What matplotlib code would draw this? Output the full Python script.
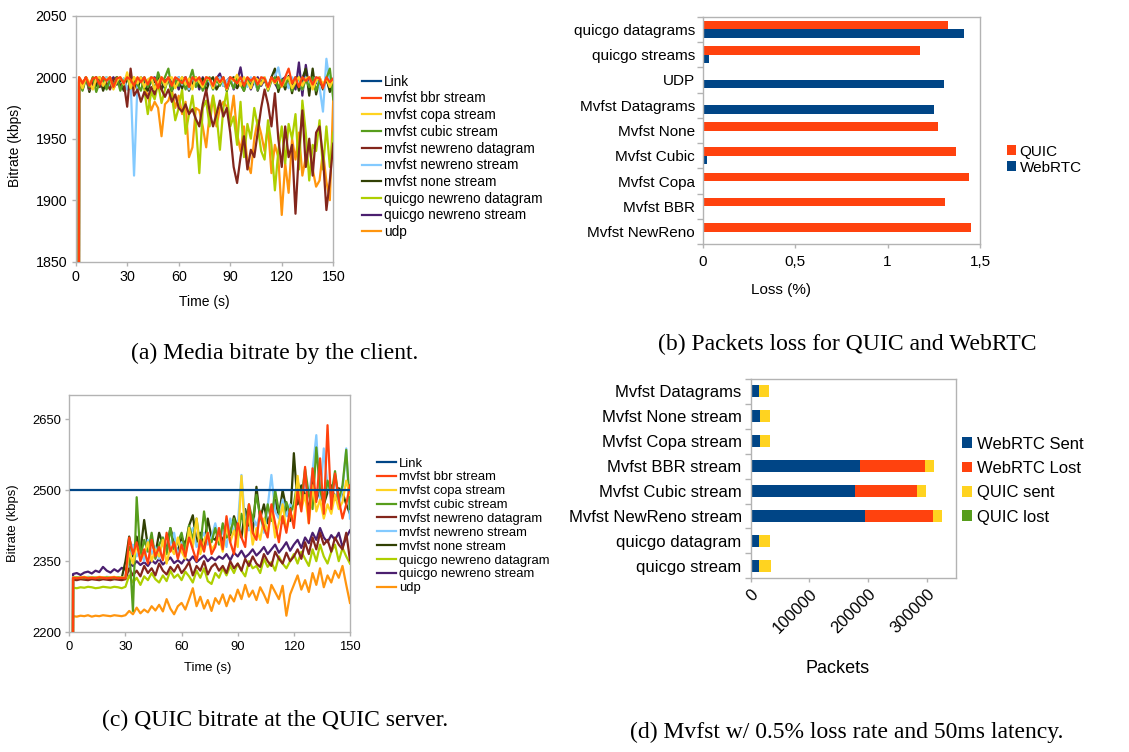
import numpy as np
import matplotlib
matplotlib.use('Agg')
import matplotlib.pyplot as plt

plt.rcParams['font.family'] = ['Liberation Sans', 'DejaVu Sans']

# series names and colours shared by (a) and (c)
series_names = ['Link', 'mvfst bbr stream', 'mvfst copa stream', 'mvfst cubic stream',
                'mvfst newreno datagram', 'mvfst newreno stream', 'mvfst none stream',
                'quicgo newreno datagram', 'quicgo newreno stream', 'udp']
series_colors = ['#004586', '#ff420e', '#ffd320', '#579d1c', '#83261c', '#83caff',
                 '#314004', '#aecf00', '#4b1f6f', '#ff950e']

# (a) media bitrate at the client, kbps, sampled at t = 1, 2, 4, ..., 150 s
link_a = 2500
bbr_a = [0, 2000, 1995, 2000, 1993, 1999, 2000, 1994, 2000, 1997,
         2000, 1992, 1999, 2000, 1995, 2000, 1998, 1993, 2000, 1996,
         2000, 1994, 2000, 1999, 1991, 2000, 1996, 2000, 1993, 2000,
         1998, 1995, 2000, 1992, 2000, 1997, 2000, 1994, 2000, 1999,
         1993, 2000, 1996, 2000, 1991, 2000, 1998, 1995, 2000, 1993,
         2000, 1997, 2000, 1994, 2000, 1999, 1992, 2000, 1996, 2000,
         1993, 2000, 2007, 1995, 2000, 1992, 2000, 1997, 2000, 1994,
         2000, 1999, 1991, 2000, 1996, 1999]
copa_a = [0, 1998, 1991, 2000, 1996, 1990, 1999, 2000, 1993, 1998,
          2000, 1990, 1997, 2000, 1994, 2004, 1991, 2000, 1995, 2000,
          1992, 1998, 2000, 1990, 1996, 2000, 1993, 1999, 2000, 1991,
          1997, 2000, 1994, 1999, 1990, 2000, 1996, 1992, 2000, 1998,
          1991, 2000, 1995, 1999, 1990, 2000, 1997, 2002, 1993, 2000,
          1996, 1991, 2000, 1998, 1994, 2000, 1990, 1999, 1995, 2000,
          1992, 1998, 2000, 1991, 1996, 2000, 1993, 1999, 2000, 1990,
          1997, 2000, 1994, 1999, 1992, 1998]
cubic_a = [0, 1997, 1989, 1999, 1992, 2000, 1988, 1996, 2000, 1990,
           1998, 1993, 2000, 1989, 1997, 2000, 1991, 1999, 1994, 1989,
           2000, 1992, 1998, 1990, 2004, 1995, 2000, 2007, 1989, 1998,
           1993, 2000, 1990, 1997, 2006, 1992, 1999, 1989, 1996, 2000,
           1990, 1998, 1993, 2000, 1989, 1997, 1991, 2000, 1994, 1989,
           1999, 1992, 2000, 1990, 1996, 1999, 1989, 1997, 2000, 1991,
           1998, 1993, 2000, 1989, 1996, 2000, 1990, 1998, 1992, 2000,
           1989, 1997, 1993, 1999, 2007, 1982]
nr_dgram_a = [0, 1998, 1993, 2000, 1990, 1996, 2000, 1992, 1999, 1995,
              1990, 1998, 2000, 1993, 1996, 1976, 2007, 1985, 1990, 1980,
              1988, 1983, 1992, 1986, 1998, 1990, 1984, 1990, 1980, 1986,
              1975, 1972, 1978, 1970, 1974, 1966, 1960, 1978, 1990, 1972,
              1960, 1970, 1981, 1968, 1975, 1955, 1927, 1914, 1935, 1952,
              1925, 1941, 1935, 1955, 1975, 1990, 1978, 1960, 1987, 1950,
              1927, 1960, 1935, 1945, 1889, 1940, 1973, 1927, 1950, 1920,
              1955, 1960, 1935, 1892, 1916, 1946]
nr_stream_a = [0, 1999, 1993, 2000, 1990, 1997, 2000, 1992, 1998, 2000,
               1991, 1996, 2000, 1993, 1999, 1990, 1997, 1920, 1995, 2000,
               1992, 1998, 2000, 1990, 1996, 1999, 1993, 2000, 1991, 1997,
               2000, 1994, 1998, 1990, 2000, 1995, 1999, 1992, 2000, 1996,
               1990, 1998, 2000, 1993, 1997, 1999, 1991, 2000, 1995, 1998,
               1992, 2000, 1996, 1990, 1999, 2000, 1993, 1997, 2000, 2008,
               1994, 1999, 1991, 2000, 1996, 1998, 1990, 2000, 1993, 1997,
               2000, 1992, 1972, 2015, 1995, 1999]
none_a = [0, 1996, 1990, 2000, 1988, 1998, 1993, 2000, 1989, 1997,
          2000, 1991, 1996, 1999, 1989, 2000, 1994, 1998, 1990, 2000,
          1993, 1989, 1999, 1996, 2000, 1990, 1997, 1999, 1989, 1995,
          2000, 1991, 1998, 1989, 1996, 2000, 1992, 1999, 1989, 1997,
          2000, 1990, 1995, 1999, 1989, 1998, 2000, 1991, 1996, 1989,
          1999, 1993, 2000, 1989, 1997, 1999, 1990, 2000, 2007, 1988,
          1998, 1990, 2001, 1987, 2000, 1989, 1999, 2007, 1985, 2007,
          1986, 1998, 1990, 2000, 1988, 1996]
qg_dgram_a = [0, 1999, 1994, 2000, 1991, 1997, 2000, 1993, 1998, 2000,
              1992, 1996, 2000, 1994, 1999, 1990, 1997, 2000, 1993, 1998,
              1990, 1970, 1988, 1982, 1995, 1979, 1990, 2000, 1985, 1965,
              1975, 1990, 1954, 1970, 1985, 1962, 1922, 1975, 1981, 1960,
              1985, 1970, 1941, 1975, 1988, 1960, 1968, 1945, 1980, 1935,
              1962, 1950, 1975, 1960, 1940, 1933, 1965, 1945, 1908, 1940,
              1960, 1930, 1962, 1950, 1970, 1925, 1981, 1955, 1916, 1945,
              1940, 1965, 1925, 1960, 1927, 1955]
qg_stream_a = [0, 1998, 1992, 2000, 1990, 1996, 1999, 1993, 2000, 1991,
               1997, 2000, 1994, 1998, 1990, 2000, 1995, 1999, 1992, 2000,
               1996, 1990, 1998, 2000, 1993, 1997, 1991, 2000, 1995, 1999,
               1990, 1998, 2000, 1992, 1996, 1999, 1990, 2000, 1994, 1997,
               1991, 1999, 2003, 1993, 1997, 2000, 1990, 1996, 2008, 1992,
               1999, 1990, 1997, 2000, 1993, 1998, 1991, 2000, 1995, 1990,
               1998, 2000, 1992, 1996, 1990, 2012, 1985, 2010, 1991, 1999,
               1995, 2000, 1992, 1998, 1990, 1997]
udp_a = [0, 2000, 1996, 1999, 1993, 2000, 1997, 1992, 2000, 1995,
         1999, 1991, 2000, 1996, 1993, 2000, 1998, 1990, 1997, 2000,
         1992, 1985, 1973, 1980, 1975, 1952, 1978, 1981, 1990, 1975,
         1985, 1970, 1980, 1935, 1943, 1975, 1973, 1960, 1943, 1970,
         1985, 1960, 1975, 1980, 1976, 1965, 1985, 1954, 1940, 1960,
         1930, 1922, 1950, 1965, 1954, 1940, 1960, 1922, 1945, 1935,
         1888, 1930, 1906, 1950, 1933, 1955, 1920, 1935, 1945, 1925,
         1911, 1916, 1940, 1915, 1900, 1984]

# (c) bitrate at the QUIC server, kbps, same sampling
link_c = 2500
bbr_c = [0, 2315, 2314, 2315, 2316, 2314, 2315, 2314, 2316, 2315,
         2314, 2315, 2316, 2314, 2315, 2314, 2400, 2365, 2390, 2350,
         2375, 2345, 2395, 2360, 2380, 2352, 2410, 2370, 2390, 2355,
         2385, 2360, 2400, 2375, 2350, 2395, 2370, 2410, 2365, 2380,
         2420, 2375, 2445, 2390, 2365, 2430, 2400, 2380, 2470, 2410,
         2395, 2455, 2420, 2400, 2470, 2430, 2390, 2445, 2410, 2460,
         2420, 2500, 2455, 2549, 2430, 2546, 2475, 2567, 2450, 2637,
         2460, 2535, 2480, 2440, 2470, 2510]
copa_c = [0, 2316, 2315, 2316, 2317, 2315, 2316, 2315, 2317, 2316,
          2315, 2316, 2317, 2315, 2316, 2315, 2370, 2345, 2385, 2355,
          2365, 2390, 2350, 2375, 2360, 2395, 2345, 2380, 2365, 2400,
          2370, 2355, 2420, 2380, 2440, 2365, 2395, 2410, 2375, 2385,
          2400, 2370, 2425, 2390, 2415, 2380, 2530, 2400, 2450, 2385,
          2420, 2395, 2440, 2410, 2460, 2400, 2430, 2470, 2415, 2450,
          2440, 2530, 2460, 2490, 2430, 2510, 2455, 2480, 2440, 2470,
          2450, 2490, 2460, 2475, 2520, 2490]
cubic_c = [0, 2315, 2316, 2315, 2314, 2315, 2316, 2315, 2314, 2315,
           2316, 2315, 2314, 2316, 2315, 2314, 2380, 2245, 2485, 2360,
           2395, 2370, 2410, 2355, 2385, 2400, 2365, 2420, 2375, 2390,
           2410, 2370, 2425, 2395, 2440, 2380, 2455, 2400, 2390, 2420,
           2385, 2430, 2400, 2410, 2440, 2395, 2450, 2420, 2470, 2435,
           2490, 2445, 2420, 2470, 2435, 2500, 2455, 2430, 2475, 2450,
           2470, 2520, 2480, 2545, 2490, 2460, 2590, 2500, 2470, 2520,
           2490, 2540, 2480, 2510, 2585, 2460]
nr_dgram_c = [0, 2311, 2310, 2312, 2311, 2310, 2312, 2311, 2310, 2312,
              2311, 2310, 2312, 2311, 2310, 2312, 2335, 2320, 2330, 2318,
              2340, 2325, 2335, 2320, 2345, 2330, 2322, 2338, 2328, 2342,
              2325, 2335, 2348, 2320, 2340, 2330, 2350, 2322, 2338, 2345,
              2330, 2340, 2325, 2350, 2335, 2345, 2330, 2355, 2340, 2360,
              2345, 2338, 2365, 2350, 2340, 2370, 2355, 2345, 2368, 2350,
              2360, 2375, 2355, 2390, 2365, 2400, 2375, 2410, 2385, 2395,
              2370, 2400, 2385, 2375, 2410, 2352]
nr_stream_c = [0, 2316, 2315, 2316, 2315, 2317, 2316, 2315, 2316, 2315,
               2317, 2316, 2315, 2316, 2315, 2316, 2355, 2385, 2360, 2375,
               2350, 2395, 2365, 2380, 2355, 2400, 2370, 2385, 2410, 2360,
               2390, 2375, 2405, 2420, 2380, 2395, 2410, 2385, 2400, 2430,
               2395, 2415, 2380, 2440, 2410, 2425, 2532, 2430, 2415, 2445,
               2425, 2450, 2410, 2465, 2532, 2455, 2440, 2480, 2445, 2470,
               2460, 2500, 2475, 2520, 2490, 2540, 2616, 2480, 2588, 2510,
               2480, 2530, 2470, 2500, 2588, 2440]
none_c = [0, 2315, 2314, 2315, 2316, 2315, 2314, 2315, 2316, 2315,
          2314, 2315, 2316, 2315, 2314, 2350, 2402, 2360, 2402, 2370,
          2437, 2380, 2395, 2365, 2410, 2385, 2375, 2420, 2390, 2370,
          2400, 2385, 2425, 2447, 2390, 2410, 2380, 2440, 2400, 2395,
          2415, 2390, 2430, 2405, 2445, 2420, 2400, 2460, 2425, 2410,
          2507, 2440, 2470, 2430, 2455, 2480, 2445, 2500, 2460, 2435,
          2578, 2470, 2510, 2490, 2460, 2520, 2480, 2500, 2470, 2495,
          2510, 2480, 2504, 2495, 2470, 2450]
qg_dgram_c = [0, 2294, 2293, 2295, 2294, 2296, 2295, 2293, 2294, 2296,
              2295, 2294, 2296, 2295, 2293, 2296, 2320, 2305, 2315, 2300,
              2318, 2310, 2325, 2312, 2305, 2320, 2308, 2330, 2315, 2322,
              2310, 2328, 2318, 2305, 2330, 2315, 2335, 2308, 2302, 2325,
              2315, 2335, 2320, 2340, 2325, 2345, 2330, 2318, 2350, 2335,
              2340, 2325, 2355, 2338, 2348, 2330, 2360, 2345, 2335, 2350,
              2365, 2345, 2370, 2355, 2340, 2375, 2350, 2385, 2360, 2345,
              2370, 2385, 2350, 2378, 2360, 2345]
qg_stream_c = [0, 2323, 2325, 2321, 2326, 2328, 2324, 2330, 2327, 2338,
               2330, 2326, 2333, 2328, 2336, 2332, 2345, 2340, 2350, 2342,
               2348, 2340, 2352, 2345, 2355, 2343, 2350, 2358, 2346, 2352,
               2345, 2356, 2350, 2360, 2348, 2355, 2362, 2350, 2358, 2352,
               2360, 2355, 2365, 2352, 2368, 2360, 2372, 2358, 2365, 2375,
               2362, 2370, 2380, 2365, 2375, 2385, 2368, 2378, 2390, 2372,
               2385, 2395, 2378, 2400, 2388, 2410, 2395, 2420, 2400, 2390,
               2405, 2395, 2410, 2380, 2400, 2415]
udp_c = [0, 2234, 2233, 2235, 2234, 2236, 2233, 2235, 2234, 2236,
         2235, 2234, 2236, 2235, 2234, 2236, 2245, 2238, 2252, 2240,
         2248, 2242, 2255, 2246, 2258, 2244, 2270, 2250, 2238, 2255,
         2262, 2248, 2270, 2293, 2255, 2275, 2250, 2268, 2245, 2272,
         2260, 2280, 2255, 2278, 2265, 2290, 2270, 2300, 2275, 2288,
         2268, 2295, 2280, 2262, 2300, 2285, 2270, 2298, 2235, 2280,
         2300, 2320, 2290, 2310, 2285, 2325, 2300, 2335, 2295, 2320,
         2305, 2330, 2315, 2340, 2300, 2262]

# (b) packet loss (%)
loss_categories = ['quicgo datagrams', 'quicgo streams', 'UDP', 'Mvfst Datagrams',
                   'Mvfst None', 'Mvfst Cubic', 'Mvfst Copa', 'Mvfst BBR', 'Mvfst NewReno']
loss_quic = [1.325, 1.177, 0, 0, 1.273, 1.370, 1.440, 1.311, 1.453]
loss_webrtc = [1.415, 0.032, 1.305, 1.249, 0, 0.023, 0, 0.002, 0.002]
loss_ticks = [0, 0.5, 1, 1.5]

# (d) packet counts
pkt_categories = ['Mvfst Datagrams', 'Mvfst None stream', 'Mvfst Copa stream', 'Mvfst BBR stream',
                  'Mvfst Cubic stream', 'Mvfst NewReno stream', 'quicgo datagram', 'quicgo stream']
webrtc_sent = [13700, 16000, 15400, 187100, 178000, 194000, 14300, 14300]
webrtc_lost = [0, 0, 0, 110700, 106100, 116900, 0, 0]
quic_sent = [17100, 17100, 17100, 14200, 14800, 14800, 18200, 20500]
quic_lost = [0, 0, 0, 0, 0, 0, 0, 0]
pkt_ticks = [0, 100000, 200000, 300000]

GRID = '#b3b3b3'


def time_axis(n):
    # first sample at 1 s, then every 2 s
    return np.r_[1, np.arange(1, n) * 2]


def style(ax):
    for s in ax.spines.values():
        s.set_color(GRID)
        s.set_linewidth(1)
    ax.tick_params(which='both', color=GRID, width=1, direction='out')


def line_panel(ax, link, series, ylim, yticks, fs, link_on_top):
    ax.plot([1, 150], [link, link], color=series_colors[0], lw=1.6,
            zorder=20 if link_on_top else 1, label=series_names[0])
    for i, vals in enumerate(series):
        ax.plot(time_axis(len(vals)), vals, color=series_colors[i + 1], lw=1.6,
                zorder=15 - i, label=series_names[i + 1])
    ax.set_xlim(0, 150)
    ax.set_ylim(*ylim)
    ax.set_xticks([0, 30, 60, 90, 120, 150])
    ax.set_yticks(yticks)
    style(ax)
    ax.tick_params(length=3, pad=3, labelsize=fs)


fig = plt.figure(figsize=(11.29, 7.52), dpi=100)

# ---- (a)
ax_a = fig.add_axes([0.0670, 0.6520, 0.2282, 0.3271])
line_panel(ax_a, link_a, [bbr_a, copa_a, cubic_a, nr_dgram_a, nr_stream_a, none_a,
                          qg_dgram_a, qg_stream_a, udp_a],
           (1850, 2050), [1850, 1900, 1950, 2000, 2050], 10.3, False)
ax_a.set_xlabel('Time (s)', fontsize=10)
ax_a.set_ylabel('Bitrate (kbps)', fontsize=10)
ax_a.xaxis.set_label_coords(0.5, -0.135)
ax_a.yaxis.set_label_coords(-0.21, 0.47)
ax_a.legend(loc='upper left', bbox_to_anchor=(0.3204, 0.9007), bbox_transform=fig.transFigure,
            frameon=False, fontsize=9.8, handlelength=1.45, handletextpad=0.2,
            labelspacing=0.2, borderpad=0, borderaxespad=0)

# ---- (c)
ax_c = fig.add_axes([0.0614, 0.1592, 0.2486, 0.3151])
line_panel(ax_c, link_c, [bbr_c, copa_c, cubic_c, nr_dgram_c, nr_stream_c, none_c,
                          qg_dgram_c, qg_stream_c, udp_c],
           (2200, 2700), [2200, 2350, 2500, 2650], 9.4, True)
ax_c.set_xlabel('Time (s)', fontsize=9.4)
ax_c.set_ylabel('Bitrate (kbps)', fontsize=9.4)
ax_c.xaxis.set_label_coords(0.494, -0.125)
ax_c.yaxis.set_label_coords(-0.179, 0.46)
ax_c.legend(loc='upper left', bbox_to_anchor=(0.3342, 0.3916), bbox_transform=fig.transFigure,
            frameon=False, fontsize=9.4, handlelength=1.4, handletextpad=0.25,
            labelspacing=0.13, borderpad=0, borderaxespad=0)

# ---- (b)
ax_b = fig.add_axes([0.6224, 0.6751, 0.2456, 0.3027])
yb = np.arange(len(loss_categories))
ax_b.barh(yb - 0.165, loss_quic, height=0.33, color='#ff420e', label='QUIC')
ax_b.barh(yb + 0.165, loss_webrtc, height=0.33, color='#004586', label='WebRTC')
ax_b.set_ylim(len(loss_categories) - 0.5, -0.5)
ax_b.set_xlim(0, 1.5)
ax_b.set_yticks(yb)
ax_b.set_yticklabels(loss_categories)
ax_b.set_yticks(np.arange(len(loss_categories) + 1) - 0.5, minor=True)
ax_b.set_xticks(loss_ticks)
ax_b.set_xticklabels([f'{v:g}'.replace('.', ',') for v in loss_ticks])
style(ax_b)
ax_b.tick_params(axis='y', which='major', length=0, pad=5.5, labelsize=11)
ax_b.tick_params(axis='y', which='minor', length=4)
ax_b.tick_params(axis='x', length=3, pad=4.8, labelsize=11)
ax_b.set_xlabel('Loss (%)', fontsize=11)
ax_b.xaxis.set_label_coords(0.283, -0.17)
ax_b.legend(loc='upper left', bbox_to_anchor=(0.8917, 0.8078), bbox_transform=fig.transFigure,
            frameon=False, fontsize=11, handlelength=0.6, handleheight=0.6,
            handletextpad=0.25, labelspacing=0.14, borderpad=0, borderaxespad=0)

# ---- (d)
ax_d = fig.add_axes([0.6649, 0.2310, 0.1819, 0.2650])
yd = np.arange(len(pkt_categories))
left = np.zeros(len(pkt_categories))
for vals, col, name in [(webrtc_sent, '#004586', 'WebRTC Sent'),
                        (webrtc_lost, '#ff420e', 'WebRTC Lost'),
                        (quic_sent, '#ffd320', 'QUIC sent'),
                        (quic_lost, '#579d1c', 'QUIC lost')]:
    ax_d.barh(yd, vals, left=left, height=0.48, color=col, label=name)
    left = left + np.array(vals)
ax_d.set_ylim(len(pkt_categories) - 0.5, -0.5)
ax_d.set_xlim(0, 350000)
ax_d.set_yticks(yd)
ax_d.set_yticklabels(pkt_categories)
ax_d.set_yticks(np.arange(len(pkt_categories) + 1) - 0.5, minor=True)
ax_d.set_xticks(pkt_ticks)
ax_d.set_xticklabels([str(v) for v in pkt_ticks], rotation=45, ha='right',
                     rotation_mode='anchor')
style(ax_d)
ax_d.tick_params(axis='y', which='major', length=0, pad=6.5, labelsize=12)
ax_d.tick_params(axis='y', which='minor', length=4)
ax_d.tick_params(axis='x', length=3, pad=3, labelsize=12)
ax_d.set_xlabel('Packets', fontsize=13)
ax_d.xaxis.set_label_coords(0.424, -0.41)
ax_d.legend(loc='upper left', bbox_to_anchor=(0.8518, 0.4195), bbox_transform=fig.transFigure,
            frameon=False, fontsize=12, handlelength=0.62, handleheight=0.62,
            handletextpad=0.3, labelspacing=0.56, borderpad=0, borderaxespad=0)

# ---- captions
cap = dict(ha='center', va='center', family='Liberation Serif', fontsize=17)
fig.text(0.2430, 0.5306, '(a) Media bitrate by the client.', **cap)
fig.text(0.7507, 0.5420, '(b) Packets loss for QUIC and WebRTC', **cap)
fig.text(0.2440, 0.0426, '(c) QUIC bitrate at the QUIC server.', **cap)
fig.text(0.7500, 0.0266, '(d) Mvfst w/ 0.5% loss rate and 50ms latency.', **cap)

fig.savefig('out.png', dpi=100)
